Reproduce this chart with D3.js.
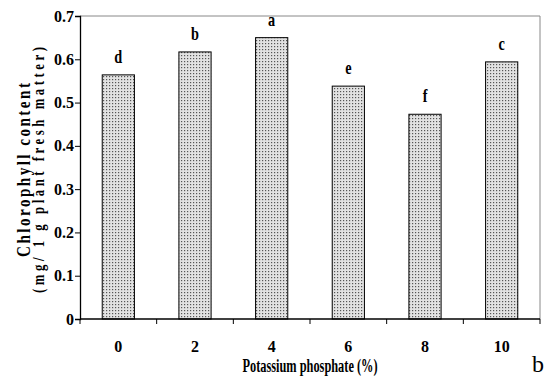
<!doctype html>
<html>
<head>
<meta charset="utf-8" />
<script src="https://cdn.jsdelivr.net/npm/d3@7"></script>
<style>
 body { margin: 0; background: #fff; }
</style>
</head>
<body>
<script>
 // chart values
 var categories = ["0", "2", "4", "6", "8", "10"];
 var values = [0.564, 0.617, 0.650, 0.538, 0.473, 0.594];
 var letters = ["d", "b", "a", "e", "f", "c"];
 var yTicks = [0, 0.1, 0.2, 0.3, 0.4, 0.5, 0.6, 0.7];

 var w = 545, h = 376;
 var m = {left: 80, right: 5, top: 16, bottom: 57};
 var font = "Liberation Serif";

 var svg = d3.select("body").append("svg")
     .attr("width", w).attr("height", h);

 var defs = svg.append("defs");
 var pat = defs.append("pattern")
     .attr("id", "dots")
     .attr("patternUnits", "userSpaceOnUse")
     .attr("width", 3).attr("height", 3);
 pat.append("rect").attr("width", 3).attr("height", 3).attr("fill", "#e2e2e2");
 pat.append("rect").attr("x", 1).attr("y", 1).attr("width", 1.2).attr("height", 1.2).attr("fill", "#555");

 var x = d3.scaleBand()
     .domain(categories)
     .range([m.left, w - m.right])
     .paddingInner(0.58).paddingOuter(0.29);

 var y = d3.scaleLinear()
     .domain([0, 0.7])
     .range([h - m.bottom, m.top]);

 // frame top and right (grey)
 svg.append("line")
     .attr("x1", m.left).attr("x2", w - m.right)
     .attr("y1", y(0.7)).attr("y2", y(0.7))
     .attr("stroke", "#888").attr("stroke-width", 1);
 svg.append("line")
     .attr("x1", w - m.right).attr("x2", w - m.right)
     .attr("y1", y(0.7)).attr("y2", y(0))
     .attr("stroke", "#888").attr("stroke-width", 1);

 // bars
 svg.selectAll(".bar")
     .data(values)
     .enter()
     .append("rect")
     .attr("class", "bar")
     .attr("x", function(d, i){ return x(categories[i]); })
     .attr("y", function(d){ return y(d); })
     .attr("width", x.bandwidth())
     .attr("height", function(d){ return y(0) - y(d); })
     .attr("fill", "url(#dots)")
     .attr("stroke", "#000")
     .attr("stroke-width", 1);

 // letters over bars (narrow glyphs)
 svg.selectAll(".lbl")
     .data(values)
     .enter()
     .append("text")
     .attr("class", "lbl")
     .attr("transform", function(d, i){
         return "translate(" + (x(categories[i]) + x.bandwidth() / 2) + "," + (y(d) - 12) + ") scale(0.75,1)";
     })
     .attr("text-anchor", "middle")
     .attr("font-family", font).attr("font-weight", "bold")
     .attr("font-size", "19px")
     .text(function(d, i){ return letters[i]; });

 // y axis
 var yAxis = svg.append("g")
     .attr("transform", "translate(" + m.left + ",0)")
     .call(d3.axisLeft(y).tickValues(yTicks).tickSize(5).tickFormat(function(d){ return d === 0 ? "0" : d3.format(".1f")(d); }));
 yAxis.select(".domain").attr("stroke", "#000").attr("stroke-width", 1.3);
 yAxis.selectAll("text")
     .attr("font-size", "16px").attr("fill", "#000")
     .attr("font-family", font).attr("font-weight", "bold")
     .attr("x", -6);

 // x axis with ticks at category boundaries
 var bounds = d3.range(categories.length + 1).map(function(i){ return m.left + i * x.step(); });
 svg.append("line")
     .attr("x1", m.left).attr("x2", w - m.right)
     .attr("y1", y(0)).attr("y2", y(0))
     .attr("stroke", "#000").attr("stroke-width", 1.3);
 svg.selectAll(".xt")
     .data(bounds)
     .enter()
     .append("line")
     .attr("class", "xt")
     .attr("x1", function(d){ return d; }).attr("x2", function(d){ return d; })
     .attr("y1", y(0)).attr("y2", y(0) + 5)
     .attr("stroke", "#000");
 svg.selectAll(".xl")
     .data(categories)
     .enter()
     .append("text")
     .attr("class", "xl")
     .attr("x", function(d){ return x(d) + x.bandwidth() / 2; })
     .attr("y", y(0) + 33)
     .attr("text-anchor", "middle")
     .attr("font-family", font).attr("font-weight", "bold")
     .attr("font-size", "16px")
     .text(function(d){ return d; });

 // axis titles
 svg.append("text")
     .attr("x", 310)
     .attr("y", 372)
     .attr("text-anchor", "middle")
     .attr("font-family", font).attr("font-weight", "bold")
     .attr("font-size", "18px")
     .attr("textLength", 135).attr("lengthAdjust", "spacingAndGlyphs")
     .text("Potassium phosphate (%)");

 var yMid = 170;
 svg.append("text")
     .attr("transform", "translate(30," + yMid + ") rotate(-90) scale(0.8,1)")
     .attr("text-anchor", "middle")
     .attr("font-family", font).attr("font-weight", "bold")
     .attr("font-size", "19px")
     .attr("textLength", 174 / 0.8).attr("lengthAdjust", "spacing")
     .text("Chlorophyll content");
 svg.append("text")
     .attr("transform", "translate(44," + yMid + ") rotate(-90) scale(0.8,1)")
     .attr("text-anchor", "middle")
     .attr("font-family", font).attr("font-weight", "bold")
     .attr("font-size", "16px")
     .attr("textLength", 246 / 0.8).attr("lengthAdjust", "spacing")
     .text("(mg/ 1 g plant fresh matter)");

 svg.append("text")
     .attr("x", 538).attr("y", 372)
     .attr("text-anchor", "middle")
     .attr("font-family", font)
     .attr("font-size", "24px")
     .text("b");
</script>
</body>
</html>
